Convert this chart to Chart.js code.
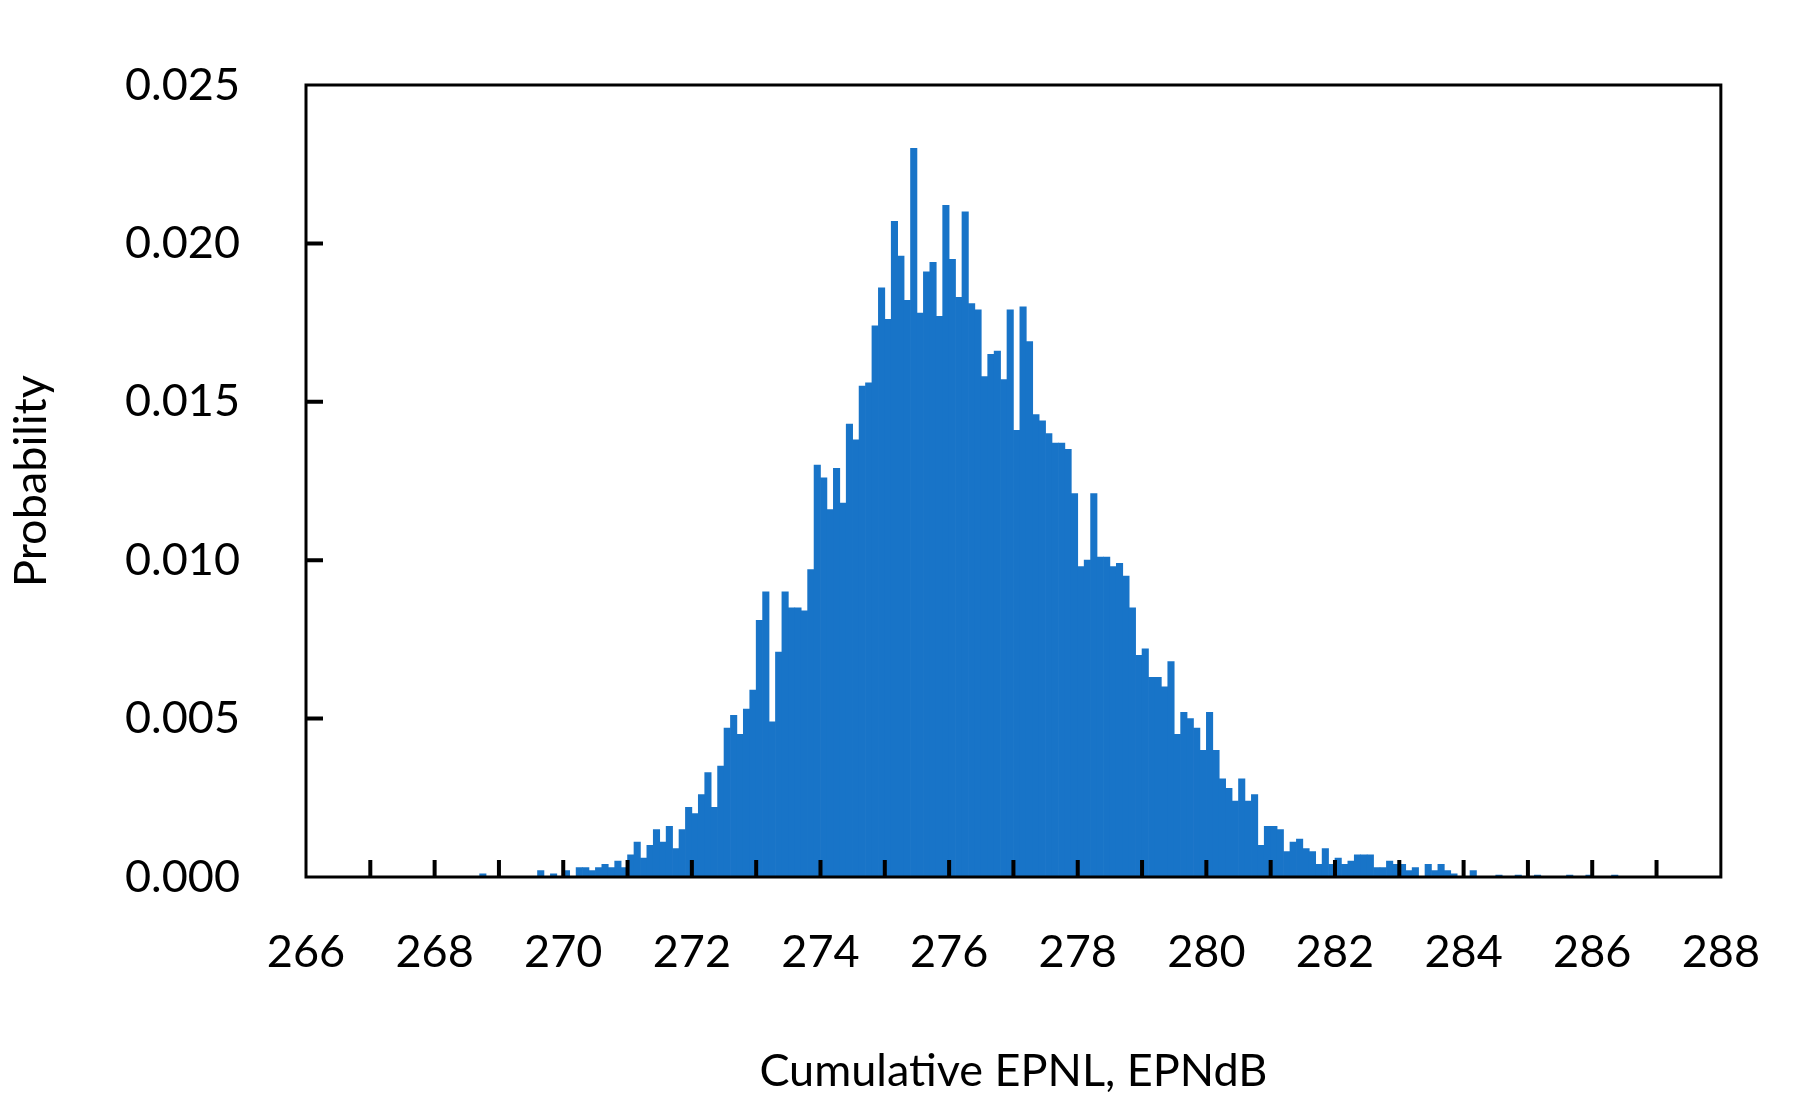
<!DOCTYPE html>
<html>
<head>
<meta charset="utf-8">
<script src="https://cdn.jsdelivr.net/npm/chart.js@4"></script>
<style>
  html, body { margin: 0; padding: 0; background: #fff; }
  #wrap { width: 1800px; height: 1102px; }
</style>
</head>
<body>
<div id="wrap"><canvas id="histChart"></canvas></div>
<script>
// histogram bins: width 0.1 EPNdB, first bin starts at 268.5
const binStart = 268.5;
const binWidth = 0.1;
const probability = [
  // 268.5 - 269.9
  0, 0, 0.0001, 0, 0, 0, 0, 0, 0, 0, 0, 0.0002, 0, 0.0001, 0,
  // 270.0 - 270.9
  0.0002, 0, 0.0003, 0.0003, 0.0002, 0.0003, 0.0004, 0.0003, 0.0005, 0.0003,
  // 271.0 - 271.9
  0.0007, 0.0011, 0.0006, 0.0010, 0.0015, 0.0011, 0.0016, 0.0009, 0.0015, 0.0022,
  // 272.0 - 272.9
  0.0020, 0.0026, 0.0033, 0.0022, 0.0035, 0.0047, 0.0051, 0.0045, 0.0053, 0.0059,
  // 273.0 - 273.9
  0.0081, 0.0090, 0.0049, 0.0071, 0.0090, 0.0085, 0.0085, 0.0084, 0.0097, 0.0130,
  // 274.0 - 274.9
  0.0126, 0.0116, 0.0129, 0.0118, 0.0143, 0.0138, 0.0155, 0.0156, 0.0174, 0.0186,
  // 275.0 - 275.9
  0.0176, 0.0207, 0.0196, 0.0182, 0.0230, 0.0178, 0.0191, 0.0194, 0.0177, 0.0212,
  // 276.0 - 276.9
  0.0195, 0.0183, 0.0210, 0.0181, 0.0179, 0.0158, 0.0165, 0.0166, 0.0157, 0.0179,
  // 277.0 - 277.9
  0.0141, 0.0180, 0.0169, 0.0146, 0.0144, 0.0140, 0.0137, 0.0137, 0.0135, 0.0121,
  // 278.0 - 278.9
  0.0098, 0.0100, 0.0121, 0.0101, 0.0101, 0.0098, 0.0099, 0.0095, 0.0085, 0.0070,
  // 279.0 - 279.9
  0.0072, 0.0063, 0.0063, 0.0060, 0.0068, 0.0045, 0.0052, 0.0050, 0.0047, 0.0040,
  // 280.0 - 280.9
  0.0052, 0.0040, 0.0031, 0.0028, 0.0024, 0.0031, 0.0024, 0.0026, 0.0010, 0.0016,
  // 281.0 - 281.9
  0.0016, 0.0015, 0.0008, 0.0011, 0.0012, 0.0009, 0.0008, 0.0004, 0.0009, 0.0004,
  // 282.0 - 282.9
  0.0006, 0.0004, 0.0005, 0.0007, 0.0007, 0.0007, 0.0003, 0.0003, 0.0005, 0.0004,
  // 283.0 - 283.9
  0.0004, 0.0002, 0.0003, 0, 0.0004, 0.0002, 0.0004, 0.0002, 0.0001, 0,
  // 284.0 - 284.9
  0, 0.0002, 0, 0, 0, 0.00006, 0, 0, 0.00006, 0,
  // 285.0 - 285.9
  0, 0.00006, 0, 0, 0, 0, 0.00006, 0, 0, 0.00006,
  // 286.0 - 286.9
  0, 0, 0, 0.00006, 0, 0, 0, 0, 0, 0
];
const xMin = 266, xMax = 288;
const yTicks = [0, 0.005, 0.010, 0.015, 0.020, 0.025];

const points = probability.map((p, i) => ({ x: binStart + (i + 0.5) * binWidth, y: p }));

// frame + inward tick marks
const framePlugin = {
  id: 'frame',
  afterDraw(chart) {
    const { ctx, chartArea: a, scales } = chart;
    ctx.save();
    ctx.strokeStyle = '#000';
    ctx.lineWidth = 3;
    ctx.strokeRect(a.left, a.top, a.right - a.left, a.bottom - a.top);
    ctx.lineWidth = 4;
    ctx.beginPath();
    for (let v = xMin + 1; v < xMax; v++) {
      const px = scales.x.getPixelForValue(v);
      ctx.moveTo(px, a.bottom);
      ctx.lineTo(px, a.bottom - 17);
    }
    yTicks.slice(1, -1).forEach(v => {
      const py = scales.y.getPixelForValue(v);
      ctx.moveTo(a.left, py);
      ctx.lineTo(a.left + 17, py);
    });
    ctx.stroke();
    ctx.restore();
  }
};

const font = { family: 'Lato, "Open Sans", sans-serif', size: 45 };

new Chart(document.getElementById('histChart'), {
  type: 'bar',
  data: {
    datasets: [{
      data: points,
      backgroundColor: '#1874c8',
      borderWidth: 0,
      barPercentage: 1,
      categoryPercentage: 1
    }]
  },
  options: {
    responsive: true,
    maintainAspectRatio: false,
    animation: false,
    layout: { padding: { top: 77, right: 58, left: 0, bottom: 0 } },
    plugins: { legend: { display: false }, tooltip: { enabled: false } },
    scales: {
      x: {
        type: 'linear',
        min: xMin, max: xMax,
        offset: false,
        grid: { display: false },
        border: { display: false },
        ticks: {
          stepSize: 1,
          autoSkip: false,
          maxRotation: 0,
          padding: 40,
          color: '#000',
          font: font,
          callback: v => (v % 2 === 0 ? v : '')
        },
        title: { display: true, text: 'Cumulative EPNL, EPNdB', color: '#000', font: font, padding: { top: 28 } },
        afterFit: s => { s.height = 225; }
      },
      y: {
        min: 0, max: 0.025,
        grid: { display: false },
        border: { display: false },
        afterBuildTicks: s => { s.ticks = yTicks.map(v => ({ value: v })); },
        ticks: { padding: 58, color: '#000', font: font, callback: v => v.toFixed(3) },
        title: { display: true, text: 'Probability', color: '#000', font: font, padding: { bottom: 0 } },
        afterFit: s => { s.width = 306; }
      }
    }
  },
  plugins: [framePlugin]
});
</script>
</body>
</html>
